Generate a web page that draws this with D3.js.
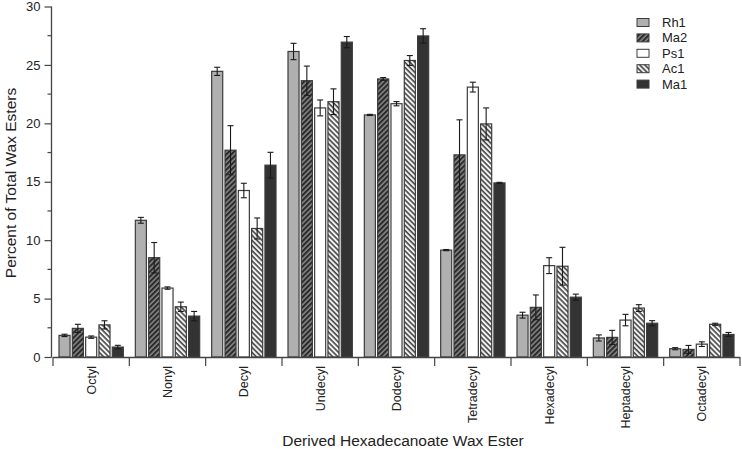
<!DOCTYPE html>
<html>
<head>
<meta charset="utf-8">
<script src="https://cdn.jsdelivr.net/npm/d3@7"></script>
<style>
  html, body { margin: 0; padding: 0; background: #fff; }
  svg { display: block; font-family: "Liberation Sans", Arial, Helvetica, sans-serif; }
</style>
</head>
<body>
<svg id="chart" width="742" height="449"></svg>
<script>
const categories = ["Octyl", "Nonyl", "Decyl", "Undecyl", "Dodecyl", "Tetradecyl", "Hexadecyl", "Heptadecyl", "Octadecyl"];
const seriesNames = ["Rh1", "Ma2", "Ps1", "Ac1", "Ma1"];
const rh1 = [1.85, 11.7, 24.45, 26.15, 20.72, 9.15, 3.58, 1.63, 0.71];
const ma2 = [2.45, 8.5, 17.7, 23.65, 23.8, 17.3, 4.25, 1.68, 0.65];
const ps1 = [1.7, 5.9, 14.25, 21.32, 21.68, 23.1, 7.82, 3.16, 1.1];
const ac1 = [2.75, 4.3, 11.0, 21.85, 25.38, 19.95, 7.77, 4.19, 2.8];
const ma1 = [0.85, 3.5, 16.42, 26.95, 27.48, 14.9, 5.12, 2.89, 1.93];
const rh1Err = [0.1, 0.25, 0.35, 0.7, 0.05, 0.05, 0.25, 0.26, 0.09];
const ma2Err = [0.35, 1.3, 2.1, 1.25, 0.12, 3.0, 1.06, 0.6, 0.34];
const ps1Err = [0.1, 0.1, 0.62, 0.68, 0.18, 0.42, 0.68, 0.49, 0.2];
const ac1Err = [0.35, 0.4, 0.9, 1.1, 0.42, 1.37, 1.62, 0.29, 0.09];
const ma1Err = [0.15, 0.4, 1.1, 0.48, 0.62, 0.05, 0.26, 0.22, 0.17];
const yTicks = [0, 5, 10, 15, 20, 25, 30];
const yMinorTicks = [2.5, 7.5, 12.5, 17.5, 22.5, 27.5];

(function () {
const values = [rh1, ma2, ps1, ac1, ma1];
const errors = [rh1Err, ma2Err, ps1Err, ac1Err, ma1Err];

const svg = d3.select("#chart");
const plotLeft = 51.5, plotRight = 740, plotTop = 6.5, plotBottom = 357;

// patterns
const defs = svg.append("defs");
const p1 = defs.append("pattern").attr("id", "hatchMa2").attr("patternUnits", "userSpaceOnUse")
  .attr("width", 3.6).attr("height", 3.6).attr("patternTransform", "rotate(45)");
p1.append("rect").attr("width", 3.6).attr("height", 3.6).attr("fill", "#2a2a2a");
p1.append("line").attr("x1", 1).attr("y1", 0).attr("x2", 1).attr("y2", 3.6)
  .attr("stroke", "#9a9a9a").attr("stroke-width", 1.3);
const p2 = defs.append("pattern").attr("id", "hatchAc1").attr("patternUnits", "userSpaceOnUse")
  .attr("width", 3.6).attr("height", 3.6).attr("patternTransform", "rotate(-45)");
p2.append("rect").attr("width", 3.6).attr("height", 3.6).attr("fill", "#f2f2f2");
p2.append("line").attr("x1", 1).attr("y1", 0).attr("x2", 1).attr("y2", 3.6)
  .attr("stroke", "#3a3a3a").attr("stroke-width", 1.5);

const fills = {
  Rh1: "#b0b0b0",
  Ma2: "url(#hatchMa2)",
  Ps1: "#ffffff",
  Ac1: "url(#hatchAc1)",
  Ma1: "#333333"
};

const x0 = d3.scaleBand().domain(categories).range([plotLeft + 1.5, plotRight]).paddingInner(0).paddingOuter(0);
const x1 = d3.scaleBand().domain(seriesNames).range([6, x0.bandwidth() - 6]).paddingInner(0.17).paddingOuter(0);
const y = d3.scaleLinear().domain([0, 30]).range([plotBottom, plotTop]);

const rows = [];
categories.forEach((c, i) => {
  seriesNames.forEach((s, j) => {
    rows.push({ cat: c, series: s, value: values[j][i], err: errors[j][i] });
  });
});

const g = svg.append("g");
g.selectAll("rect.bar").data(rows).enter().append("rect")
  .attr("class", "bar")
  .attr("x", d => x0(d.cat) + x1(d.series))
  .attr("y", d => y(d.value))
  .attr("width", x1.bandwidth())
  .attr("height", d => y(0) - y(d.value))
  .attr("fill", d => fills[d.series])
  .attr("stroke", "#3c3c3c")
  .attr("stroke-width", 1.2);

const cx = d => x0(d.cat) + x1(d.series) + x1.bandwidth() / 2;
const eg = g.selectAll("g.err").data(rows).enter().append("g").attr("class", "err")
  .attr("stroke", "#1a1a1a").attr("stroke-width", 1.1);
eg.append("line")
  .attr("x1", cx).attr("x2", cx)
  .attr("y1", d => y(d.value - d.err))
  .attr("y2", d => y(d.value + d.err));
eg.append("line")
  .attr("x1", d => cx(d) - 3).attr("x2", d => cx(d) + 3)
  .attr("y1", d => y(d.value + d.err))
  .attr("y2", d => y(d.value + d.err));
eg.append("line")
  .attr("x1", d => cx(d) - 3).attr("x2", d => cx(d) + 3)
  .attr("y1", d => y(d.value - d.err))
  .attr("y2", d => y(d.value - d.err));

// y axis
const yAxis = svg.append("g").attr("transform", `translate(${plotLeft},0)`)
  .call(d3.axisLeft(y).tickValues(yTicks).tickSize(7).tickPadding(4).tickFormat(d3.format("d")));
yAxis.select(".domain").remove();
yAxis.selectAll("line").attr("stroke", "#444").attr("stroke-width", 1.2);
yAxis.selectAll("text").attr("font-size", 13).attr("fill", "#222").attr("font-family", "Liberation Sans, Arial, sans-serif");
svg.append("g").attr("transform", `translate(${plotLeft},0)`)
  .selectAll("line").data(yMinorTicks).enter().append("line")
  .attr("x1", -4).attr("x2", 0).attr("y1", d => y(d)).attr("y2", d => y(d))
  .attr("stroke", "#444").attr("stroke-width", 1.2);
svg.append("line").attr("x1", plotLeft).attr("x2", plotLeft).attr("y1", plotTop).attr("y2", plotBottom + 0.5)
  .attr("stroke", "#444").attr("stroke-width", 1.3);

// x axis
svg.append("line").attr("x1", plotLeft + 1.5).attr("x2", plotRight).attr("y1", plotBottom + 0.5).attr("y2", plotBottom + 0.5)
  .attr("stroke", "#444").attr("stroke-width", 1.3);
const boundaries = categories.map(c => x0(c)).concat([x0(categories[categories.length - 1]) + x0.bandwidth()]);
svg.append("g").selectAll("line").data(boundaries).enter().append("line")
  .attr("x1", d => d).attr("x2", d => d).attr("y1", plotBottom).attr("y2", plotBottom + 9)
  .attr("stroke", "#444").attr("stroke-width", 1.2);
svg.append("g").selectAll("text").data(categories).enter().append("text")
  .attr("transform", d => `translate(${x0(d) + x0.bandwidth() / 2 + 4.5},${plotBottom + 9}) rotate(-90)`)
  .attr("text-anchor", "end")
  .attr("font-size", 12.5)
  .attr("fill", "#222")
  .text(d => d);

// axis titles
svg.append("text").attr("x", 403).attr("y", 446).attr("text-anchor", "middle")
  .attr("font-size", 15.5).attr("fill", "#222").text("Derived Hexadecanoate Wax Ester");
svg.append("text").attr("transform", "translate(16,183) rotate(-90)").attr("text-anchor", "middle")
  .attr("font-size", 15.5).attr("fill", "#222").text("Percent of Total Wax Esters");

// legend
const lg = svg.append("g").attr("transform", "translate(637,22.5)");
const li = lg.selectAll("g").data(seriesNames).enter().append("g")
  .attr("transform", (d, i) => `translate(0,${i * 15.4})`);
li.append("rect").attr("x", 0).attr("y", -4).attr("width", 12).attr("height", 8)
  .attr("fill", d => fills[d]).attr("stroke", "#3c3c3c").attr("stroke-width", 1);
li.append("text").attr("x", 25).attr("y", 4.5).attr("font-size", 13).attr("fill", "#222").text(d => d);
})();
</script>
</body>
</html>
